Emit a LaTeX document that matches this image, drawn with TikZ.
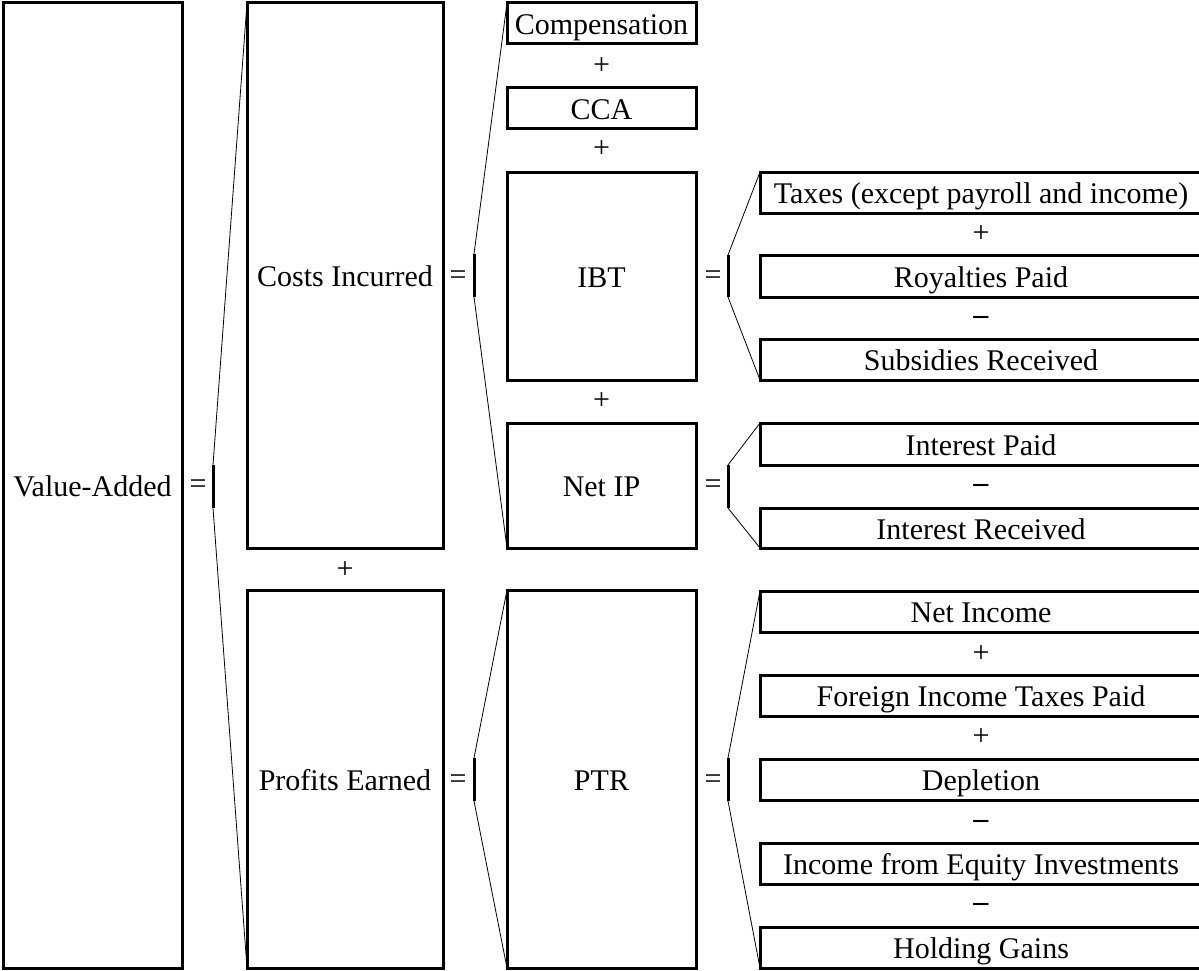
\documentclass[tikz,border=0pt]{standalone}
\usepackage{fontspec}
\setmainfont{Liberation Serif}
\begin{document}
\begin{tikzpicture}[x=1pt,y=-1pt,
    box/.style={draw,line width=3pt,outer sep=0pt,inner sep=0pt,anchor=north west,
      text height=22.5pt,text depth=0pt,font=\fontsize{30}{36}\selectfont},
    op/.style={inner sep=0pt,text height=22.5pt,text depth=0pt,font=\fontsize{30}{36}\selectfont},
    bar/.style={line width=3pt},
    fan/.style={line width=0.8pt}]
  \useasboundingbox (0,0) rectangle (1199,971);
  % value-added
  \node[box,minimum width=179pt,minimum height=965pt] (va) at (3,3) {Value-Added};
  \node[op] (eqva) at (198,482) {=};
  \coordinate (vat) at (213,465);
  \coordinate (vab) at (213,508);
  % costs and profits
  \node[box,minimum width=196pt,minimum height=545pt] (ci) at (247,3) {Costs Incurred};
  \node[op] (pci) at (345,567) {+};
  \node[box,minimum width=196pt,minimum height=378pt] (pe) at (247,590) {Profits Earned};
  \node[op] (eqci) at (458,273) {=};
  \node[op] (eqpe) at (458,777) {=};
  \coordinate (cit) at (474,254);
  \coordinate (cib) at (474,297);
  \coordinate (pet) at (474,758);
  \coordinate (peb) at (474,801);
  % components
  \node[box,minimum width=189pt,minimum height=41pt] (comp) at (507,3) {Compensation};
  \node[op] (pcomp) at (601.5,63) {+};
  \node[box,minimum width=189pt,minimum height=41pt] (cca) at (507,88) {CCA};
  \node[op] (pcca) at (601.5,146) {+};
  \node[box,minimum width=189pt,minimum height=208pt] (ibt) at (507,172) {IBT};
  \node[op] (pibt) at (601.5,398) {+};
  \node[box,minimum width=189pt,minimum height=125pt] (nip) at (507,423) {Net IP};
  \node[box,minimum width=189pt,minimum height=378pt] (ptr) at (507,590) {PTR};
  \node[op] (eqibt) at (713,273) {=};
  \node[op] (eqnip) at (713,482) {=};
  \node[op] (eqptr) at (713,777) {=};
  \coordinate (ibtt) at (728,255);
  \coordinate (ibtb) at (728,297);
  \coordinate (nipt) at (728,465);
  \coordinate (nipb) at (728,508);
  \coordinate (ptrt) at (728,758);
  \coordinate (ptrb) at (728,801);
  % items
  \node[box,minimum width=442pt,minimum height=41pt] (tax) at (760,172) {Taxes (except payroll and income)};
  \node[op] (ptax) at (981,231) {+};
  \node[box,minimum width=442pt,minimum height=42pt] (roy) at (760,255) {Royalties Paid};
  \node[op] (mroy) at (981,313) {\textbf{–}};
  \node[box,minimum width=442pt,minimum height=41pt] (sub) at (760,339) {Subsidies Received};
  \node[box,minimum width=442pt,minimum height=42pt] (ipd) at (760,423) {Interest Paid};
  \node[op] (mipd) at (981,481) {\textbf{–}};
  \node[box,minimum width=442pt,minimum height=40pt] (irc) at (760,508) {Interest Received};
  \node[box,minimum width=442pt,minimum height=41pt] (ninc) at (760,591) {Net Income};
  \node[op] (pninc) at (981,651) {+};
  \node[box,minimum width=442pt,minimum height=41pt] (fitp) at (760,675) {Foreign Income Taxes Paid};
  \node[op] (pfitp) at (981,734) {+};
  \node[box,minimum width=442pt,minimum height=41pt] (depl) at (760,759) {Depletion};
  \node[op] (mdepl) at (981,817) {\textbf{–}};
  \node[box,minimum width=442pt,minimum height=41pt] (ifei) at (760,843) {Income from Equity Investments};
  \node[op] (mifei) at (981,900) {\textbf{–}};
  \node[box,minimum width=442pt,minimum height=41pt] (hold) at (760,927) {Holding Gains};
  % brackets
  \draw[bar] (vat) -- (vab);
  \draw[fan] (vat) -- (ci.north west);
  \draw[fan] (vab) -- (pe.south west);
  \draw[bar] (cit) -- (cib);
  \draw[fan] (cit) -- (comp.north west);
  \draw[fan] (cib) -- (nip.south west);
  \draw[bar] (pet) -- (peb);
  \draw[fan] (pet) -- (ptr.north west);
  \draw[fan] (peb) -- (ptr.south west);
  \draw[bar] (ibtt) -- (ibtb);
  \draw[fan] (ibtt) -- (tax.north west);
  \draw[fan] (ibtb) -- (sub.south west);
  \draw[bar] (nipt) -- (nipb);
  \draw[fan] (nipt) -- (ipd.north west);
  \draw[fan] (nipb) -- (irc.south west);
  \draw[bar] (ptrt) -- (ptrb);
  \draw[fan] (ptrt) -- (ninc.north west);
  \draw[fan] (ptrb) -- (hold.south west);
\end{tikzpicture}
\end{document}
